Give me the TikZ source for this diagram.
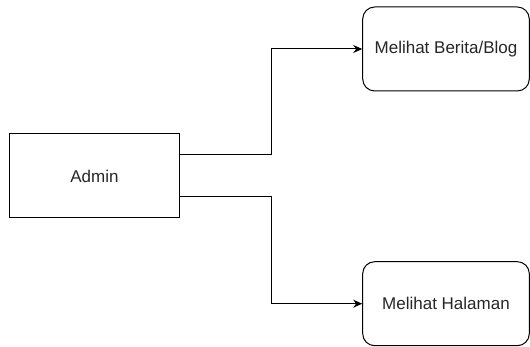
\documentclass[tikz,border=0pt]{standalone}
\usepackage{fontspec}
\setmainfont{Liberation Sans}
\usepackage{tikz}
\usetikzlibrary{arrows.meta}

\begin{document}
\begin{tikzpicture}[
      x=1pt, y=1pt,
      box/.style={draw, line width=1pt, minimum width=170pt, minimum height=84pt,
        inner sep=0pt, font=\fontsize{17}{20}\selectfont, text=black!85},
      act/.style={box, rounded corners=12pt, minimum width=166.6pt},
      link/.style={line width=1pt, -{Stealth[length=9pt,width=8pt]}}
      ]
      \useasboundingbox (0,0) rectangle (530,347);
      \node[box] (admin) at (94.5,171) {Admin};
      \node[act] (berita) at (446,298) {Melihat Berita/Blog};
      \node[act] (halaman) at (446,43.3) {Melihat Halaman};
      \draw[link] ([yshift=21pt]admin.east) -- ++(91.2,0) |- (berita.west);
      \draw[link] ([yshift=-21pt]admin.east) -- ++(91.2,0) |- (halaman.west);
    \end{tikzpicture}
\end{document}
